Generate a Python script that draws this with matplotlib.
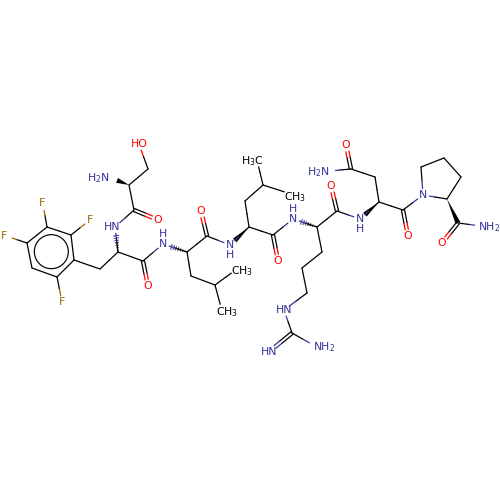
import numpy as np
import matplotlib
matplotlib.use('Agg')
import matplotlib.pyplot as plt

plt.rcParams['mathtext.default'] = 'regular'

# atom positions (pixels)
atom_names = ['OH', 'SerB', 'SerA', 'NH2a', 'SerC', 'SerO', 'PheN', 'PheA', 'PheB',
              'R1', 'R2', 'R3', 'R4', 'R5', 'R6', 'F3', 'F2', 'F4', 'F6', 'PheC', 'PheO',
              'LeuN', 'LeuA', 'LeuC', 'LeuO', 'LeuB', 'LeuG', 'LeuD1', 'LeuD2',
              'Le2N', 'Le2A', 'Le2C', 'Le2O', 'Le2B', 'Le2G', 'Le2D1', 'Le2D2',
              'ArgN', 'ArgA', 'ArgC', 'ArgO', 'ArgB', 'ArgG', 'ArgD', 'ArgE', 'ArgZ', 'ArgH1', 'ArgH2',
              'AsnN', 'AsnA', 'AsnC', 'AsnO', 'AsnB', 'AsnG', 'AsnOD', 'AsnND',
              'ProN', 'ProA', 'ProB', 'ProG', 'ProD', 'ProC', 'ProO', 'ProNH2']
atom_x = [139, 148, 129, 111, 134, 158, 115, 118, 100,
          74, 71, 47, 27, 32, 57, 43, 90, 6, 62, 143, 148,
          163, 187, 207, 201, 191, 215, 237, 222,
          230, 249, 273, 278, 245, 263, 257, 291,
          293, 317, 337, 331, 322, 302, 307, 284, 292, 270, 315,
          360, 379, 403, 408, 375, 351, 346, 329,
          423, 447, 461, 444, 421, 458, 442, 481]
atom_y = [144, 169, 185, 178, 210, 220, 227, 252, 269,
          260, 235, 227, 243, 268, 277, 204, 220, 236, 302, 261, 286,
          244, 252, 236, 211, 276, 285, 269, 311,
          245, 227, 235, 261, 201, 185, 160, 194,
          219, 227, 211, 186, 252, 268, 293, 310, 333, 351, 346,
          219, 202, 210, 236, 177, 169, 145, 171,
          195, 199, 177, 158, 167, 223, 243, 226]

# bonds, order 2 = double with side of the second line
single_from = ['OH', 'SerB', 'SerA', 'SerC', 'PheN', 'PheA', 'PheB', 'R1', 'R2', 'R3', 'R4', 'R5', 'R6',
               'R2', 'R3', 'R4', 'R6', 'PheA', 'PheC', 'LeuN', 'LeuA', 'LeuC', 'LeuA', 'LeuB', 'LeuG', 'LeuG',
               'Le2N', 'Le2A', 'Le2A', 'Le2B', 'Le2G', 'Le2G', 'Le2C', 'ArgN', 'ArgA', 'ArgC', 'ArgA', 'ArgB',
               'ArgG', 'ArgD', 'ArgE', 'ArgZ', 'AsnN', 'AsnA', 'AsnA', 'AsnB', 'AsnG', 'AsnC', 'ProN', 'ProA',
               'ProB', 'ProG', 'ProD', 'ProC']
single_to = ['SerB', 'SerA', 'SerC', 'PheN', 'PheA', 'PheB', 'R1', 'R2', 'R3', 'R4', 'R5', 'R6', 'R1',
             'F2', 'F3', 'F4', 'F6', 'PheC', 'LeuN', 'LeuA', 'LeuC', 'Le2N', 'LeuB', 'LeuG', 'LeuD1', 'LeuD2',
             'Le2A', 'Le2C', 'Le2B', 'Le2G', 'Le2D1', 'Le2D2', 'ArgN', 'ArgA', 'ArgC', 'AsnN', 'ArgB', 'ArgG',
             'ArgD', 'ArgE', 'ArgZ', 'ArgH2', 'AsnA', 'AsnC', 'AsnB', 'AsnG', 'AsnND', 'ProN', 'ProA', 'ProB',
             'ProG', 'ProD', 'ProN', 'ProNH2']
double_from = ['SerC', 'PheC', 'LeuC', 'Le2C', 'ArgC', 'AsnC', 'AsnG', 'ProC', 'ArgZ']
double_to = ['SerO', 'PheO', 'LeuO', 'Le2O', 'ArgO', 'AsnO', 'AsnOD', 'ProO', 'ArgH1']
double_side = [-1, 1, -1, 1, -1, 1, -1, 1, 1]
wedge_from = ['SerA', 'Le2A', 'AsnA', 'ProA']
wedge_to = ['NH2a', 'Le2N', 'AsnN', 'ProC']
hash_from = ['PheA', 'LeuA', 'ArgA']
hash_to = ['PheN', 'LeuN', 'ArgN']
ring_atoms = ['R1', 'R2', 'R3', 'R4', 'R5', 'R6']

# labels
label_x = [139, 98, 158, 112, 42, 90, 4, 62, 148, 163, 163, 201, 230, 230, 278, 252, 295, 242, 227,
           293, 293, 331, 284, 269, 324, 360, 360, 408, 318, 346, 423, 442, 489]
label_y = [144, 178, 220, 227, 203, 220, 236, 302, 286, 244, 234, 211, 245, 255, 261, 161, 197, 271, 312,
           219, 209, 186, 310, 352, 347, 219, 229, 236, 172, 145, 195, 243, 227]
label_text = ['HO', 'H$_2$N', 'O', 'HN', 'F', 'F', 'F', 'F', 'O', 'N', 'H', 'O', 'N', 'H', 'O',
              'H$_3$C', 'CH$_3$', 'CH$_3$', 'CH$_3$', 'N', 'H', 'O', 'HN', 'HN', 'NH$_2$',
              'N', 'H', 'O', 'H$_2$N', 'O', 'N', 'O', 'NH$_2$']
label_kind = ['O', 'N', 'O', 'N', 'F', 'F', 'F', 'F', 'O', 'N', 'N', 'O', 'N', 'N', 'O',
              'C', 'C', 'C', 'C', 'N', 'N', 'O', 'N', 'N', 'N', 'N', 'N', 'O', 'N', 'O', 'N', 'O', 'N']

colors = {'C': '#000000', 'N': '#33339a', 'O': '#ff0000', 'F': '#996600'}
atom_kind = {'OH': 'O', 'NH2a': 'N', 'SerO': 'O', 'PheN': 'N', 'F3': 'F', 'F2': 'F', 'F4': 'F', 'F6': 'F',
             'PheO': 'O', 'LeuN': 'N', 'LeuO': 'O', 'Le2N': 'N', 'Le2O': 'O', 'ArgN': 'N', 'ArgO': 'O',
             'ArgE': 'N', 'ArgH1': 'N', 'ArgH2': 'N', 'AsnN': 'N', 'AsnO': 'O', 'AsnOD': 'O', 'AsnND': 'N',
             'ProN': 'N', 'ProO': 'O', 'ProNH2': 'N'}
# methyl ends have black labels, they still need a gap
gap_atoms = {'Le2D1': 7, 'Le2D2': 7, 'LeuD1': 7, 'LeuD2': 7}

pos = dict(zip(atom_names, zip(atom_x, atom_y)))

fig = plt.figure(figsize=(5, 5), dpi=100)
ax = fig.add_axes([0, 0, 1, 1])
ax.set_xlim(0, 500)
ax.set_ylim(500, 0)
ax.axis('off')


def gap(name):
    if name in atom_kind:
        return 6.5
    return gap_atoms.get(name, 0)


def draw_bond(a, b, shift=(0, 0), trim=0.0):
    p = np.array(pos[a], dtype=float)
    q = np.array(pos[b], dtype=float)
    u = (q - p) / np.linalg.norm(q - p)
    start = p + u * max(gap(a), trim) + shift
    end = q - u * max(gap(b), trim) + shift
    mid = (p + q) / 2 + shift
    ax.plot([start[0], mid[0]], [start[1], mid[1]], color=colors[atom_kind.get(a, 'C')], lw=0.9, solid_capstyle='round')
    ax.plot([mid[0], end[0]], [mid[1], end[1]], color=colors[atom_kind.get(b, 'C')], lw=0.9, solid_capstyle='round')


for a, b in zip(single_from, single_to):
    draw_bond(a, b)

for a, b, s in zip(double_from, double_to, double_side):
    p = np.array(pos[a], dtype=float)
    q = np.array(pos[b], dtype=float)
    u = (q - p) / np.linalg.norm(q - p)
    n = np.array([-u[1], u[0]]) * s
    draw_bond(a, b, shift=n * 1.6)
    draw_bond(a, b, shift=-n * 1.6)

for a, b in zip(wedge_from, wedge_to):
    p = np.array(pos[a], dtype=float)
    q = np.array(pos[b], dtype=float)
    u = (q - p) / np.linalg.norm(q - p)
    n = np.array([-u[1], u[0]])
    end = q - u * gap(b)
    ax.fill([p[0], end[0] + n[0] * 2.6, end[0] - n[0] * 2.6], [p[1], end[1] + n[1] * 2.6, end[1] - n[1] * 2.6],
            color='black', lw=0)

for a, b in zip(hash_from, hash_to):
    p = np.array(pos[a], dtype=float)
    q = np.array(pos[b], dtype=float)
    u = (q - p) / np.linalg.norm(q - p)
    n = np.array([-u[1], u[0]])
    length = np.linalg.norm(q - p) - gap(b)
    for t in np.arange(2, length, 2.4):
        c = p + u * t
        w = 2.8 * t / length
        ax.plot([c[0] - n[0] * w, c[0] + n[0] * w], [c[1] - n[1] * w, c[1] + n[1] * w],
                color='black' if t < length / 2 else colors['N'], lw=0.7)

# aromatic ring drawn with a circle inside
ring_cx = np.mean([pos[a][0] for a in ring_atoms])
ring_cy = np.mean([pos[a][1] for a in ring_atoms])
ax.add_patch(plt.Circle((ring_cx, ring_cy), 17, fill=False, color='black', lw=0.85))

for x, y, t, k in zip(label_x, label_y, label_text, label_kind):
    ax.text(x, y, t, color=colors[k], fontsize=7.8, ha='center', va='center',
            family='DejaVu Sans')

fig.savefig('out.png', dpi=100, facecolor='white')
